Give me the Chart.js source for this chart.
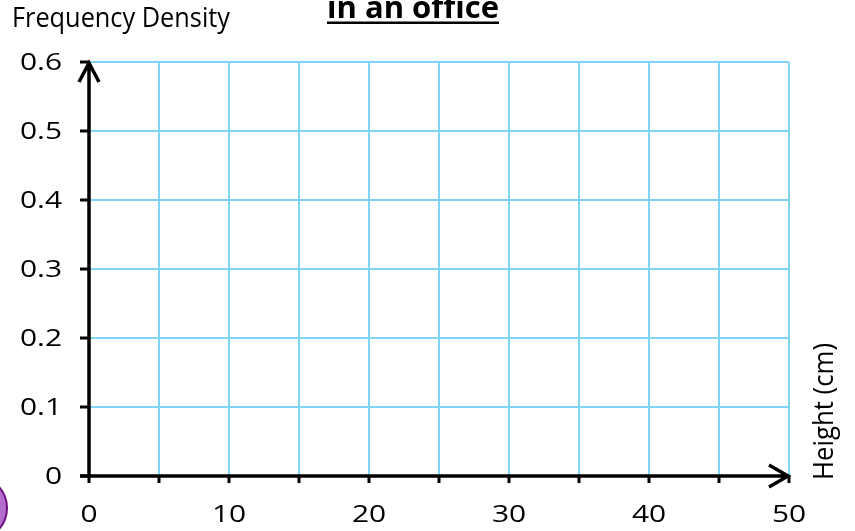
<!DOCTYPE html>
<html>
<head>
<meta charset="utf-8">
<title>Histogram - in an office</title>
<script src="https://cdn.jsdelivr.net/npm/chart.js@4"></script>
<style>
  html, body { margin: 0; padding: 0; background: #fff; }
  canvas { display: block; }
</style>
</head>
<body>
<canvas id="histChart" width="855" height="531"></canvas>
<script>
// chart values
const chartTitle = "in an office";
const yAxisTitle = "Frequency Density";
const xAxisTitle = "Height (cm)";
const xTickValues = [0, 5, 10, 15, 20, 25, 30, 35, 40, 45, 50];
const xTickLabels = ["0", "", "10", "", "20", "", "30", "", "40", "", "50"];
const yTickValues = [0, 0.1, 0.2, 0.3, 0.4, 0.5, 0.6];
const yTickLabels = ["0", "0.1", "0.2", "0.3", "0.4", "0.5", "0.6"];
// empty histogram: no bars drawn yet
const classBounds = [];
const frequencyDensity = [];

const gridBlue = "#80d4f7";
const tickFont = "23px 'Open Sans'";
const stretch = 1.3; // the original picture is widened sideways

// draw text squeezed/stretched to a given width
function fitText(ctx, text, x, y, width, angle) {
  const w = ctx.measureText(text).width;
  ctx.save();
  ctx.translate(x, y);
  if (angle) ctx.rotate(angle);
  ctx.scale(width / w, 1);
  ctx.fillText(text, 0, 0);
  ctx.restore();
}

const decorations = {
  id: "decorations",
  beforeDraw(chart) {
    const ctx = chart.ctx;
    ctx.save();
    ctx.fillStyle = "#fff";
    ctx.fillRect(0, 0, chart.width, chart.height);
    ctx.restore();
  },
  afterDraw(chart) {
    const ctx = chart.ctx;
    const x = chart.scales.x, y = chart.scales.y;
    const x0 = x.getPixelForValue(0), x1 = x.getPixelForValue(50);
    const y0 = y.getPixelForValue(0), y1 = y.getPixelForValue(0.6);

    ctx.save();
    // axis arrows
    ctx.strokeStyle = "#000";
    ctx.lineWidth = 3.5;
    ctx.lineCap = "butt";
    ctx.beginPath();
    ctx.moveTo(x0, y0 + 1);
    ctx.lineTo(x0, y1);
    ctx.moveTo(x0 - 10, y1 + 20);
    ctx.lineTo(x0, y1 + 1);
    ctx.lineTo(x0 + 10, y1 + 20);
    ctx.moveTo(x0 - 9, y0);
    ctx.lineTo(x1, y0);
    ctx.moveTo(x1 - 20, y0 - 11);
    ctx.lineTo(x1 - 1, y0);
    ctx.lineTo(x1 - 20, y0 + 11);
    ctx.stroke();

    // tick labels, placed from the scales
    ctx.fillStyle = "#000";
    ctx.textBaseline = "alphabetic";
    ctx.font = tickFont;
    yTickValues.forEach((v, i) => {
      const t = yTickLabels[i];
      const w = ctx.measureText(t).width * stretch;
      fitText(ctx, t, 62 - w, y.getPixelForValue(v) + 8, w);
    });
    xTickValues.forEach((v, i) => {
      const t = xTickLabels[i];
      if (!t) return;
      const w = ctx.measureText(t).width * stretch;
      fitText(ctx, t, x.getPixelForValue(v) - w / 2, 522, w);
    });

    // texts
    ctx.textAlign = "left";
    ctx.font = "bold 31px 'Open Sans'";
    fitText(ctx, chartTitle, 327, 18, 172);
    ctx.fillRect(327, 21.5, 172, 2.5);

    ctx.font = "28px 'Open Sans'";
    fitText(ctx, yAxisTitle, 12, 27, 218);

    ctx.font = "28px 'Open Sans'";
    fitText(ctx, xAxisTitle, 833, 480, 137, -Math.PI / 2);

    // purple button at bottom left
    ctx.beginPath();
    ctx.arc(-25, 508, 32, 0, Math.PI * 2);
    ctx.fillStyle = "#b56ccf";
    ctx.fill();
    ctx.lineWidth = 2;
    ctx.strokeStyle = "#6d0f78";
    ctx.stroke();
    ctx.restore();
  }
};

new Chart(document.getElementById("histChart"), {
  type: "bar",
  data: {
    labels: classBounds,
    datasets: [{ label: "Frequency Density", data: frequencyDensity, backgroundColor: "#999" }]
  },
  options: {
    responsive: false,
    animation: false,
    events: [],
    layout: { padding: { top: 62, right: 66, left: 0, bottom: 0 } },
    plugins: { legend: { display: false }, tooltip: { enabled: false }, title: { display: false } },
    scales: {
      x: {
        type: "linear",
        min: 0,
        max: 50,
        offset: false,
        afterBuildTicks: (s) => { s.ticks = xTickValues.map((v) => ({ value: v })); },
        afterFit: (s) => { s.height = 55; },
        border: { display: false },
        grid: { offset: false, color: gridBlue, lineWidth: 2, tickColor: "#000", tickWidth: 3, tickLength: 7 },
        ticks: { display: false }
      },
      y: {
        type: "linear",
        min: 0,
        max: 0.6,
        afterBuildTicks: (s) => { s.ticks = yTickValues.map((v) => ({ value: v })); },
        afterFit: (s) => { s.width = 89; },
        border: { display: false },
        grid: { color: gridBlue, lineWidth: 2, tickColor: "#000", tickWidth: 3, tickLength: 9 },
        ticks: { display: false }
      }
    }
  },
  plugins: [decorations]
});
</script>
</body>
</html>
